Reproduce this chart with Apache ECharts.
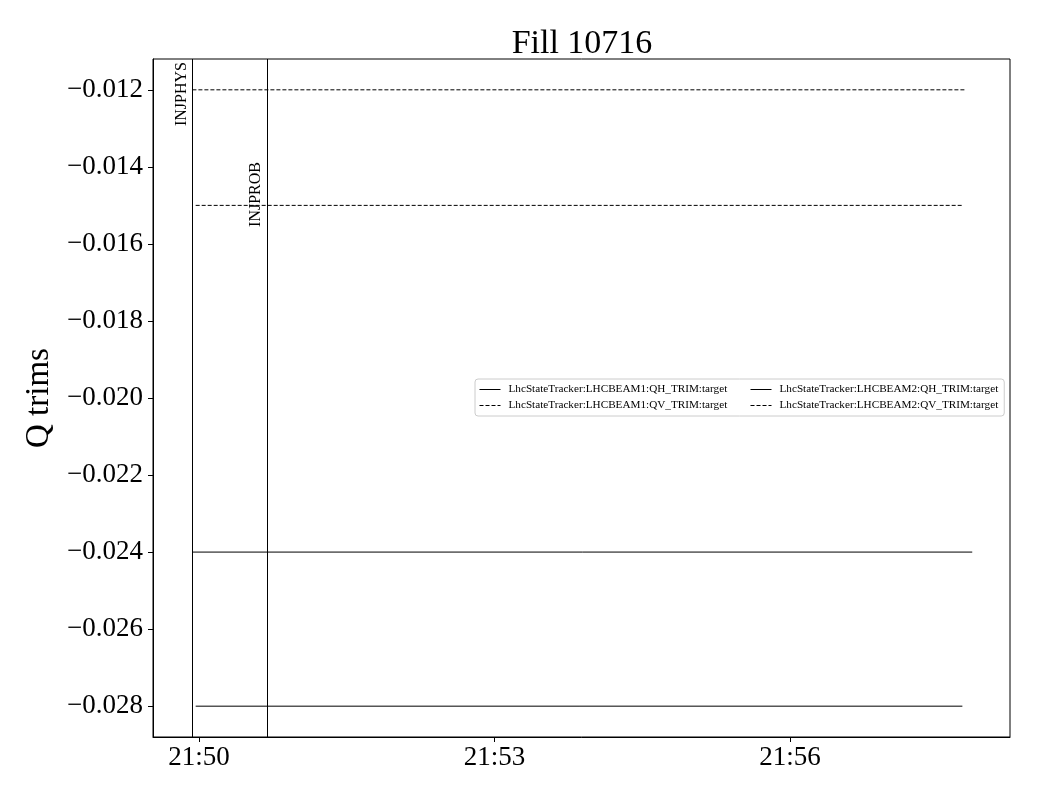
<!DOCTYPE html>
<html>
<head>
<meta charset="utf-8">
<script src="https://cdn.jsdelivr.net/npm/echarts@6/dist/echarts.min.js"></script>
<style>html,body{margin:0;padding:0;background:#fff;}#c{width:1040px;height:800px;}</style>
</head>
<body>
<div id="c"></div>
<script>
// ---- data ----
var title = 'Fill 10716';
var yName = 'Q trims';
var seriesNames = [
  'LhcStateTracker:LHCBEAM1:QH_TRIM:target',
  'LhcStateTracker:LHCBEAM1:QV_TRIM:target',
  'LhcStateTracker:LHCBEAM2:QH_TRIM:target',
  'LhcStateTracker:LHCBEAM2:QV_TRIM:target'
];
var b1qhTimes = ['21:49:56', '21:57:51'];
var b1qhValues = [-0.024, -0.024];
var b1qvTimes = ['21:49:56', '21:57:47'];
var b1qvValues = [-0.012, -0.012];
var b2qhTimes = ['21:49:58', '21:57:45'];
var b2qhValues = [-0.028, -0.028];
var b2qvTimes = ['21:49:58', '21:57:45'];
var b2qvValues = [-0.015, -0.015];
var eventNames = ['INJPHYS', 'INJPROB'];
var eventTimes = ['21:49:56', '21:50:41.5'];
var xRange = ['21:49:32', '21:58:14'];
var xTickTimes = ['21:50', '21:53', '21:56'];
var yTicks = [-0.028, -0.026, -0.024, -0.022, -0.020, -0.018, -0.016, -0.014, -0.012];
var yRange = [-0.0288, -0.0112];

// ---- helpers ----
// time of day -> seconds since midnight
function toSec(s) {
  var p = s.split(':').map(Number);
  return p[0] * 3600 + p[1] * 60 + (p[2] || 0);
}
function pairs(ts, vs) { return ts.map(function (t, i) { return [toSec(t), vs[i]]; }); }
function pad(n) { return (n < 10 ? '0' : '') + n; }

var FONT = '"Liberation Serif", "DejaVu Serif", serif';
var seriesData = [pairs(b1qhTimes, b1qhValues), pairs(b1qvTimes, b1qvValues),
                  pairs(b2qhTimes, b2qhValues), pairs(b2qvTimes, b2qvValues)];
var dashed = [false, true, false, true];

var series = seriesNames.map(function (n, i) {
  return {
    name: n, type: 'line', data: seriesData[i], symbol: 'none', showSymbol: false,
    lineStyle: { color: '#000', width: 1, type: dashed[i] ? [4, 2] : 'solid' },
    itemStyle: { color: '#000' }
  };
});
series[0].markLine = {
  silent: true, symbol: ['none', 'none'], animation: false,
  lineStyle: { color: '#000', width: 1, type: 'solid' },
  data: eventNames.map(function (n, i) {
    return {
      name: n, xAxis: toSec(eventTimes[i]),
      label: {
        show: true, formatter: n, position: 'insideEndTop',
        color: '#000', fontFamily: FONT, fontSize: 16,
        distance: i === 0 ? [3, 3] : [103, 3]
      }
    };
  })
};

var legendCommon = {
  orient: 'vertical', top: 379, itemGap: 5, itemWidth: 21, itemHeight: 12,
  itemStyle: { opacity: 0 },
  lineStyle: { width: 1 },
  textStyle: { fontFamily: FONT, fontSize: 11.2, color: '#000', padding: [0, 0, 0, 3] }
};

var chart = echarts.init(document.getElementById('c'), null, { renderer: 'canvas' });
chart.setOption({
  animation: false,
  backgroundColor: '#fff',
  title: {
    text: title, left: 577, textAlign: 'center', top: 22,
    textStyle: { fontFamily: FONT, fontSize: 34, fontWeight: 'normal', color: '#000' }
  },
  grid: { left: 153, right: 30, top: 59, bottom: 63, show: true, borderColor: '#000', borderWidth: 1, containLabel: false },
  legend: [
    Object.assign({}, legendCommon, {
      data: [seriesNames[0], seriesNames[1]], left: 475,
      padding: [5, 277, 5, 4],
      borderColor: '#ccc', borderWidth: 1, borderRadius: 3, backgroundColor: 'rgba(255,255,255,0.8)'
    }),
    Object.assign({}, legendCommon, {
      data: [seriesNames[2], seriesNames[3]], left: 750,
      padding: [5, 0, 5, 0]
    })
  ],
  xAxis: {
    type: 'value', min: toSec(xRange[0]), max: toSec(xRange[1]),
    axisLine: { show: true, onZero: false, lineStyle: { color: '#000', width: 1 } },
    axisTick: { show: true, inside: false, length: 5, lineStyle: { color: '#000' },
      customValues: xTickTimes.map(toSec) },
    splitLine: { show: false },
    axisLabel: {
      customValues: xTickTimes.map(toSec), margin: 7, color: '#000', fontFamily: FONT, fontSize: 27,
      formatter: function (v) { return pad(Math.floor(v / 3600)) + ':' + pad(Math.floor((v % 3600) / 60)); }
    }
  },
  yAxis: {
    type: 'value', min: yRange[0], max: yRange[1],
    name: yName, nameLocation: 'middle', nameRotate: 90, nameGap: 91,
    nameTextStyle: { fontFamily: FONT, fontSize: 33, color: '#000' },
    axisLine: { show: true, onZero: false, lineStyle: { color: '#000', width: 1 } },
    axisTick: { show: true, inside: false, length: 5, lineStyle: { color: '#000' }, customValues: yTicks },
    splitLine: { show: false },
    axisLabel: {
      customValues: yTicks, margin: 10, color: '#000', fontFamily: FONT, fontSize: 27,
      formatter: function (v) { return v.toFixed(3).replace('-', '\u2212'); }
    }
  },
  series: series
});
</script>
</body>
</html>
